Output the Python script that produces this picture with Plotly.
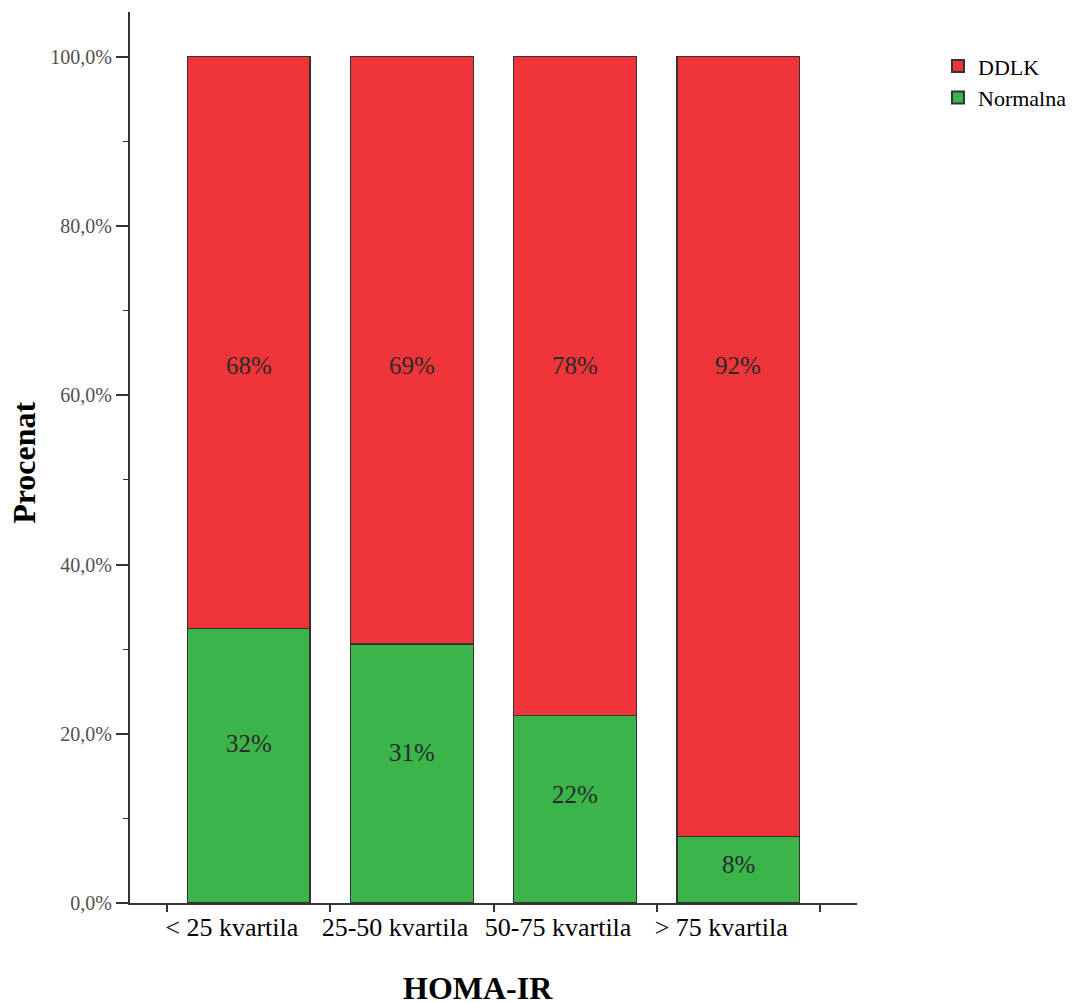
import plotly.graph_objects as go

categories = ["< 25 kvartila", "25-50 kvartila", "50-75 kvartila", "> 75 kvartila"]
normalna = [32.4, 30.6, 22.2, 7.9]
ddlk = [67.6, 69.4, 77.8, 92.1]
ytick_vals = [0, 20, 40, 60, 80, 100]
ytick_text = ["0,0%", "20,0%", "40,0%", "60,0%", "80,0%", "100,0%"]

RED = "#EF343A"
GREEN = "#3BB44A"
EDGE = "#333333"
SERIF = "Liberation Serif, Times New Roman, serif"

fig = go.Figure()
fig.add_trace(go.Bar(x=categories, y=normalna, name="Normalna", width=0.75,
                     marker=dict(color=GREEN, line=dict(color=EDGE, width=1.2))))
fig.add_trace(go.Bar(x=categories, y=ddlk, name="DDLK", width=0.75,
                     marker=dict(color=RED, line=dict(color=EDGE, width=1.2))))

annotations = []
for c, g, r in zip(categories, normalna, ddlk):
    annotations.append(dict(x=c, y=g * 0.58, xref="x", yref="y", text=f"{round(g)}%",
                            showarrow=False, font=dict(family=SERIF, size=25, color="#2a2a2a")))
    annotations.append(dict(x=c, y=63.5, xref="x", yref="y", text=f"{round(r)}%",
                            showarrow=False, font=dict(family=SERIF, size=25, color="#2a2a2a")))

annotations.append(dict(x=(24 - 130) / 727, y=0.494, xref="paper", yref="paper", text="<b>Procenat</b>",
                        textangle=-90, showarrow=False, xanchor="center", yanchor="middle",
                        font=dict(family=SERIF, size=32, color="black")))
annotations.append(dict(x=0.479, y=-0.095, xref="paper", yref="paper", text="<b>HOMA-IR</b>",
                        showarrow=False, xanchor="center", yanchor="middle",
                        font=dict(family=SERIF, size=32, color="black")))

fig.update_layout(
    barmode="stack",
    width=1077, height=1003,
    margin=dict(l=122, r=228, t=4, b=108),
    plot_bgcolor="white", paper_bgcolor="white",
    annotations=annotations,
    legend=dict(xref="container", yref="container", x=0.8635, y=0.963, xanchor="left", yanchor="top",
                traceorder="reversed",
                font=dict(family=SERIF, size=22, color="black"), itemsizing="constant",
                tracegroupgap=0, bgcolor="rgba(0,0,0,0)"),
    xaxis=dict(type="category", range=[-0.728, 3.728], showline=True, linecolor=EDGE, linewidth=2,
               ticks="outside", tickson="boundaries", ticklen=7, tickcolor=EDGE, tickwidth=1.5,
               showgrid=False, zeroline=False, ticklabelshift=-17,
               tickfont=dict(family=SERIF, size=26, color="black")),
    yaxis=dict(range=[0, 105.3], showline=True, linecolor=EDGE, linewidth=2,
               tickvals=ytick_vals, ticktext=ytick_text, ticks="outside", ticklen=12,
               tickcolor=EDGE, tickwidth=2, showgrid=False, zeroline=False,
               tickfont=dict(family=SERIF, size=20, color="#505050"),
               minor=dict(dtick=10, tick0=0, ticks="outside", ticklen=5, tickcolor=EDGE, tickwidth=1)),
)

fig.write_html("out.html")
